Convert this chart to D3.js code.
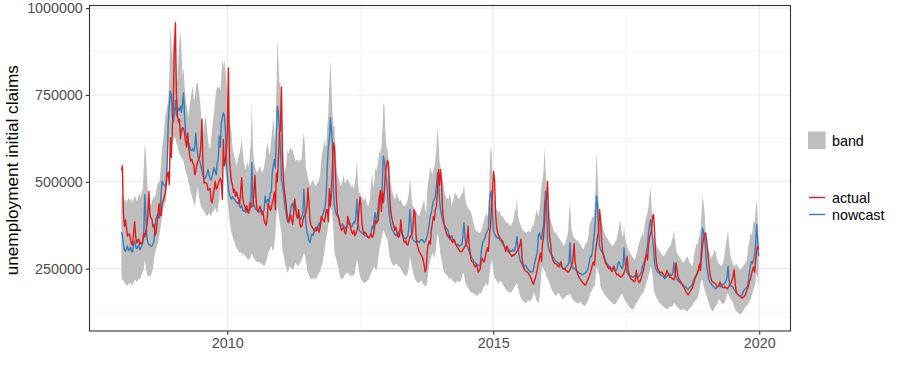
<!DOCTYPE html>
<html><head><meta charset="utf-8">
<script src="https://cdn.jsdelivr.net/npm/d3@7"></script>
<style>
body{margin:0;background:#fff}
svg{display:block}
text{font-family:"Liberation Sans",Arial,Helvetica,sans-serif}
</style>
</head><body>
<svg id="chart" width="900" height="375"></svg>
<script>
// Weekly series (week ending Saturday), first week ends 2008-01-05. Values in thousands of claims.
const startDate = "2008-01-05";
const actualK = [
533,546,411,372,390,368,344,348,350,335,321,318,352,385,342,324,331,335,320,326,322,327,352,341,357,375,400,472,406,395,393,370,376,346,352,383,410,436,405,402,441,445,454,468,492,522,528,492,628,570,650,740,
885,958,752,690,672,680,624,651,656,652,640,615,600,640,600,575,560,565,555,548,520,530,550,560,565,575,606,680,552,497,498,497,494,476,478,481,447,440,458,478,502,478,483,496,503,510,502,450,622,546,562,587,
650,828,560,530,500,490,470,478,458,470,458,450,434,470,512,455,437,430,418,431,412,410,440,432,428,430,468,518,456,420,415,421,430,420,405,412,390,380,375,395,438,430,418,422,440,450,470,420,525,500,560,640,
650,772,580,505,470,450,420,400,385,395,405,390,378,410,450,420,400,395,420,380,370,372,390,400,405,410,430,482,440,390,375,370,365,360,358,360,370,365,355,370,400,395,390,385,400,420,420,385,480,430,470,540,612,
600,520,450,405,400,385,370,360,365,370,355,350,365,400,390,380,365,355,350,360,345,350,360,372,420,455,430,380,360,350,355,350,345,340,338,345,350,340,345,360,390,380,385,390,450,475,415,470,440,480,525,545,
562,555,470,420,400,385,375,360,370,360,345,340,350,390,360,345,330,325,330,320,318,330,340,345,350,370,420,410,345,320,310,300,295,290,285,275,260,240,250,300,320,330,320,360,380,400,390,420,430,470,535,490,
535,500,420,390,370,360,350,345,340,345,335,330,325,335,330,320,315,310,305,300,298,300,305,310,315,320,330,372,320,295,275,270,268,260,255,262,255,240,245,250,275,280,270,270,285,300,310,300,350,370,430,470,
530,505,410,370,355,345,340,335,330,330,320,310,300,315,310,300,295,290,285,290,288,292,295,300,305,310,320,335,280,258,250,245,242,240,238,232,228,220,212,205,215,222,235,250,265,280,295,270,320,340,380,440,
450,502,400,340,320,290,275,270,265,265,262,258,255,262,270,258,250,248,250,245,243,240,242,248,255,262,280,322,270,250,240,232,225,220,215,212,208,205,202,208,215,222,230,238,250,262,270,260,300,320,340,355,420,
390,330,300,285,275,265,262,255,250,255,248,242,245,258,245,238,232,235,230,228,225,228,232,238,245,258,286,250,232,225,220,218,215,212,215,245,225,215,210,215,225,235,245,260,280,290,275,320,340,350,360,400,
406,350,290,260,250,245,240,238,240,236,232,228,232,245,238,230,225,225,222,220,218,228,267,245,225,220,215,210,205,200,195,188,182,178,175,180,185,190,195,205,215,225,232,240,250,262,245,285,320,335,350,353,
330,300,270,240,225,215,212,210,208,205,200,198,200,212,205,200,196,195,198,195,192,195,200,205,210,218,230,247,205,185,178,175,172,170,168,165,168,170,175,185,192,200,215,220,235,245,255,240,275,300,315,305
];
const nowcastK = [
355,345,318,305,300,308,315,302,305,312,300,298,320,330,315,308,312,318,305,310,315,330,352,463,411,340,325,320,318,315,315,322,330,372,395,400,410,395,420,470,502,495,490,488,500,560,670,720,761,750,690,672,
700,735,690,702,712,705,718,700,725,756,690,640,625,632,610,600,592,590,595,588,600,640,600,575,564,560,545,530,520,512,510,515,525,535,520,510,505,515,530,540,530,520,555,564,631,600,670,685,699,690,650,564,
520,478,462,455,450,458,452,449,445,440,438,445,430,425,432,420,415,418,412,420,415,418,418,430,555,450,435,425,420,418,415,412,415,420,411,415,418,459,440,445,450,440,468,470,526,545,564,540,640,718,700,650,
600,507,490,470,440,420,400,385,382,395,420,435,438,420,449,430,410,400,405,395,392,400,410,478,420,380,355,345,330,325,340,350,345,355,365,370,360,375,382,370,391,400,410,420,430,470,545,600,622,684,650,612,480,
430,415,405,401,395,380,372,375,380,368,372,365,370,375,385,380,372,370,378,385,380,400,449,380,365,358,355,353,350,348,345,343,345,340,340,345,355,372,365,395,411,385,400,430,459,450,440,500,574,560,526,507,
470,430,401,380,365,360,355,350,345,350,343,355,360,363,350,345,340,338,335,340,345,370,420,380,340,334,330,328,325,330,328,325,330,334,332,330,325,328,335,345,360,380,401,410,430,445,449,460,490,526,516,449,
420,405,391,380,375,370,365,363,350,334,340,345,335,330,325,320,318,320,316,315,318,320,345,382,340,320,315,310,300,295,285,280,275,270,268,265,262,260,258,262,300,320,330,334,345,353,360,363,440,468,473,411,
360,350,345,340,338,340,335,330,328,320,318,312,308,305,300,298,302,300,302,305,300,305,320,343,310,290,275,268,262,258,255,260,258,252,248,245,242,240,240,245,262,275,286,300,345,353,340,334,360,372,430,473,
430,330,310,300,295,290,285,280,275,272,270,268,265,262,258,255,252,250,250,255,258,260,270,324,265,255,250,252,248,245,242,240,238,236,235,232,234,236,238,240,245,255,270,285,285,300,330,353,400,459,430,360,315,
305,300,295,290,280,270,265,262,258,255,252,250,250,252,248,245,248,265,270,262,255,250,255,310,265,250,240,235,232,230,228,226,225,228,230,232,228,226,230,235,240,255,265,270,280,300,315,353,375,391,360,340,
300,265,250,245,240,238,235,232,230,228,225,222,225,228,230,232,235,230,232,240,267,240,225,220,215,212,210,208,205,202,200,198,195,192,190,195,198,200,205,215,222,228,232,235,245,257,270,315,367,355,340,300,
257,240,220,212,209,205,200,198,195,192,195,198,200,202,198,200,205,205,210,215,225,257,215,205,200,199,195,190,185,180,178,175,172,171,173,175,185,190,192,195,198,215,240,260,270,265,276,286,320,377,330,286
];
const bandHiK = [
455,465,450,445,452,440,448,455,449,445,452,440,450,460,455,445,450,462,468,455,470,480,540,612,583,520,470,460,440,430,445,450,459,455,470,487,500,495,516,560,600,620,650,689,700,720,737,800,948,900,850,929,
833,910,820,785,850,910,929,880,800,833,775,737,720,700,689,720,740,760,775,740,737,770,785,785,760,737,700,660,641,650,680,689,650,620,600,593,620,650,680,700,737,760,775,770,775,760,800,852,830,852,820,785,
760,718,680,660,641,600,583,570,560,545,560,575,583,600,622,590,560,545,535,550,560,540,580,620,727,600,560,545,535,526,530,540,545,535,526,530,545,560,590,612,600,574,590,620,650,689,640,603,750,915,850,785,
785,700,641,560,525,540,560,593,580,593,600,590,593,580,570,560,564,560,555,564,560,570,620,641,600,540,526,510,500,487,495,500,507,495,490,487,495,500,507,520,560,583,600,622,600,610,660,700,785,852,780,700,660,
660,600,545,520,510,500,487,495,505,520,500,495,510,507,500,495,490,485,490,478,500,520,564,500,470,468,460,455,450,445,459,445,435,430,440,455,500,526,480,500,540,530,545,560,593,580,600,650,727,718,641,600,
593,560,526,500,480,470,460,449,455,470,460,450,445,450,440,435,430,430,435,440,450,470,511,480,440,430,425,420,415,410,405,401,410,420,430,440,449,420,410,480,500,520,545,530,520,535,545,560,600,655,620,560,
545,520,507,490,470,460,449,455,450,468,455,430,445,455,465,468,460,455,449,455,460,465,470,492,460,439,430,425,420,415,410,400,385,372,365,360,358,355,353,355,360,370,380,391,400,410,400,410,520,593,598,500,
487,449,430,420,415,410,420,405,401,401,395,390,385,380,385,378,375,372,380,385,400,420,420,454,400,391,380,372,365,360,358,355,353,355,360,358,355,362,375,370,385,400,420,410,400,420,450,487,507,530,598,540,
487,450,430,410,391,380,370,360,353,355,350,345,340,335,330,325,320,315,320,330,340,353,400,444,380,353,345,340,335,334,330,330,325,320,315,310,305,312,320,324,330,345,372,385,390,401,395,420,480,588,526,450,410,
390,380,372,360,353,345,340,335,330,325,320,318,315,320,325,330,340,353,370,391,372,350,340,372,340,324,315,305,300,295,290,285,280,276,280,290,300,315,325,335,345,353,340,372,390,400,411,430,460,483,430,363,
340,330,320,315,310,305,300,295,290,288,286,290,295,300,305,310,315,320,334,340,363,330,305,295,290,285,280,275,270,267,270,275,280,286,280,270,265,260,257,270,295,310,320,320,335,345,360,411,459,440,411,360,
334,320,305,295,286,280,290,295,305,295,280,270,265,262,258,260,265,280,300,320,340,363,320,295,280,270,262,257,260,265,260,255,250,247,250,255,258,262,267,270,290,315,330,353,345,360,391,380,420,449,400,334
];
const bandLoK = [
230,219,215,210,205,204,200,208,204,210,205,200,212,215,219,210,215,220,219,225,235,240,250,276,255,235,228,230,228,232,240,250,276,295,305,315,324,340,360,380,401,420,430,440,449,500,593,620,641,630,612,620,
630,625,610,603,590,580,575,570,564,560,545,530,520,510,495,487,470,460,450,440,430,450,470,487,460,445,430,425,420,415,410,405,401,405,410,405,401,410,415,420,425,415,410,430,450,480,507,530,540,564,530,507,
449,420,390,370,353,345,334,325,315,310,305,300,295,298,295,290,292,288,285,280,278,276,280,285,295,285,280,275,272,270,267,270,268,265,262,260,257,262,270,280,295,300,310,315,305,300,320,350,400,430,410,390,
372,353,305,290,276,260,250,238,245,257,252,250,247,250,260,267,262,257,260,265,270,276,285,295,290,276,250,238,230,225,219,220,222,225,219,222,228,235,240,240,257,260,280,295,320,340,353,380,410,430,420,401,360,
295,285,276,260,247,235,225,219,222,225,230,235,238,238,235,232,230,228,230,232,238,257,276,265,245,230,219,215,212,209,210,212,215,218,222,230,238,245,250,257,250,245,255,280,305,320,334,350,363,355,345,340,
334,310,286,275,268,262,257,260,262,265,260,257,255,250,245,238,235,230,228,232,240,255,286,270,257,240,228,220,215,212,210,209,212,215,212,205,202,199,200,210,238,260,275,285,295,290,280,295,320,353,340,315,
290,276,260,245,238,235,232,228,222,219,225,219,215,212,210,209,212,215,212,210,215,225,238,235,215,205,199,195,190,185,180,182,180,178,175,173,171,175,180,178,180,185,195,199,205,209,200,205,230,257,276,265,
238,225,220,215,210,209,212,215,210,205,200,195,190,188,185,182,180,182,185,188,195,200,205,209,195,185,171,165,160,158,155,152,151,155,160,158,155,161,165,175,180,170,160,155,151,165,200,240,257,250,245,238,
228,220,215,209,200,190,185,180,175,171,175,178,180,175,170,165,161,165,168,170,175,172,175,180,170,165,160,158,155,152,151,150,152,155,150,148,145,142,145,148,155,161,170,180,185,190,199,195,220,257,250,238,228,
199,190,185,180,175,171,168,165,161,158,155,152,150,148,147,150,155,161,165,170,175,180,170,165,158,155,150,145,140,138,135,132,135,140,145,150,155,160,165,170,175,178,180,190,200,210,219,228,240,257,250,230,
190,180,171,165,161,155,150,148,145,142,140,138,135,132,135,138,140,142,140,145,151,148,145,140,138,135,132,130,132,135,132,130,128,127,130,135,138,140,145,150,155,158,161,165,175,190,205,219,215,200,190,180,
171,161,151,142,135,130,127,130,138,142,148,155,161,160,155,150,148,150,155,165,175,180,170,165,161,158,150,140,132,128,125,122,120,118,120,125,130,135,140,142,145,150,155,160,170,180,190,199,210,238,225,199
];
const yTicks = [250000, 500000, 750000, 1000000];
const yMinor = [125000, 375000, 625000, 875000];
const xTickYears = [2010, 2015, 2020];
const yLimits = [70600, 1007500];
const seriesNames = ["actual", "nowcast"];
const seriesColors = ["#E41A1C", "#377EB8"];
const bandColor = "#BEBEBE";

const svg = d3.select("#chart");
const P = {l: 89.5, t: 5.5, r: 790.5, b: 331};

const t0 = d3.utcParse("%Y-%m-%d")(startDate);
const n = Math.max(actualK.length, nowcastK.length, bandHiK.length, bandLoK.length);
const dates = d3.range(n).map(i => d3.utcDay.offset(t0, 7 * i));
const ext = d3.extent(dates);
const span = ext[1] - ext[0];
const x = d3.scaleUtc()
  .domain([new Date(+ext[0] - span * 0.05), new Date(+ext[1] + span * 0.05)])
  .range([P.l, P.r]);
const y = d3.scaleLinear().domain(yLimits).range([P.b, P.t]);

const majorX = xTickYears.map(yr => new Date(Date.UTC(yr, 0, 1)));
const minorX = [];
for (let i = 0; i < majorX.length; i++) {
  const prev = i === 0 ? new Date(Date.UTC(xTickYears[0] - 5, 0, 1)) : majorX[i - 1];
  minorX.push(new Date((+prev + +majorX[i]) / 2));
}

// panel background + grid
const g = svg.append("g");
g.append("rect").attr("x", P.l).attr("y", P.t).attr("width", P.r - P.l).attr("height", P.b - P.t).attr("fill", "#fff");
const grid = g.append("g").attr("stroke", "#EBEBEB").attr("fill", "none");
yMinor.forEach(v => grid.append("line").attr("x1", P.l).attr("x2", P.r).attr("y1", y(v)).attr("y2", y(v)).attr("stroke-width", 0.55));
minorX.forEach(d => { const xx = x(d); if (xx > P.l && xx < P.r) grid.append("line").attr("x1", xx).attr("x2", xx).attr("y1", P.t).attr("y2", P.b).attr("stroke-width", 0.55); });
yTicks.forEach(v => grid.append("line").attr("x1", P.l).attr("x2", P.r).attr("y1", y(v)).attr("y2", y(v)).attr("stroke-width", 1.1));
majorX.forEach(d => grid.append("line").attr("x1", x(d)).attr("x2", x(d)).attr("y1", P.t).attr("y2", P.b).attr("stroke-width", 1.1));

// clip
svg.append("clipPath").attr("id", "clip").append("rect").attr("x", P.l).attr("y", P.t).attr("width", P.r - P.l).attr("height", P.b - P.t);
const plot = svg.append("g").attr("clip-path", "url(#clip)");

const band = d3.area()
  .defined((d, i) => bandLoK[i] != null && bandHiK[i] != null)
  .x((d, i) => x(dates[i]))
  .y0((d, i) => y(bandLoK[i] * 1000))
  .y1((d, i) => y(bandHiK[i] * 1000));
plot.append("path").datum(bandLoK).attr("d", band).attr("fill", bandColor).attr("stroke", "none");

const lineOf = arr => d3.line().x((d, i) => x(dates[i])).y(d => y(d * 1000))(arr);
plot.append("path").attr("d", lineOf(nowcastK)).attr("fill", "none").attr("stroke", seriesColors[1]).attr("stroke-width", 1.4).attr("stroke-linejoin", "round");
plot.append("path").attr("d", lineOf(actualK)).attr("fill", "none").attr("stroke", seriesColors[0]).attr("stroke-width", 1.4).attr("stroke-linejoin", "round");

// panel border
svg.append("rect").attr("x", P.l).attr("y", P.t).attr("width", P.r - P.l).attr("height", P.b - P.t)
  .attr("fill", "none").attr("stroke", "#333333").attr("stroke-width", 1.1);

// axes
const yAxis = d3.axisLeft(y).tickValues(yTicks).tickFormat(d3.format("d")).tickSize(3.7).tickPadding(3);
const ya = svg.append("g").attr("transform", `translate(${P.l},0)`).call(yAxis);
ya.select(".domain").remove();
ya.selectAll("line").attr("stroke", "#333333").attr("stroke-width", 1.1);
ya.selectAll("text").attr("fill", "#4D4D4D").style("font-size", "14.3px");

const xAxis = d3.axisBottom(x).tickValues(majorX).tickFormat(d3.utcFormat("%Y")).tickSize(3.7).tickPadding(3);
const xa = svg.append("g").attr("transform", `translate(0,${P.b})`).call(xAxis);
xa.select(".domain").remove();
xa.selectAll("line").attr("stroke", "#333333").attr("stroke-width", 1.1);
xa.selectAll("text").attr("fill", "#4D4D4D").style("font-size", "14.3px");

// y title
svg.append("text").attr("transform", `translate(18,${(P.t + P.b) / 2 + 2}) rotate(-90)`)
  .attr("text-anchor", "middle").attr("fill", "#000").style("font-size", "17.2px")
  .text("unemployment initial claims");

// legend
const lg = svg.append("g");
lg.append("rect").attr("x", 808).attr("y", 131.5).attr("width", 17.5).attr("height", 17.5).attr("fill", bandColor);
lg.append("text").attr("x", 832).attr("y", 140.5).attr("dy", "0.35em").style("font-size", "14.3px").attr("fill", "#000").text("band");
seriesNames.forEach((nm, i) => {
  const yy = 197.5 + i * 17;
  lg.append("line").attr("x1", 809).attr("x2", 825).attr("y1", yy).attr("y2", yy).attr("stroke", seriesColors[i]).attr("stroke-width", 1.4);
  lg.append("text").attr("x", 832).attr("y", yy).attr("dy", "0.35em").style("font-size", "14.3px").attr("fill", "#000").text(nm);
});
</script>
</body></html>
